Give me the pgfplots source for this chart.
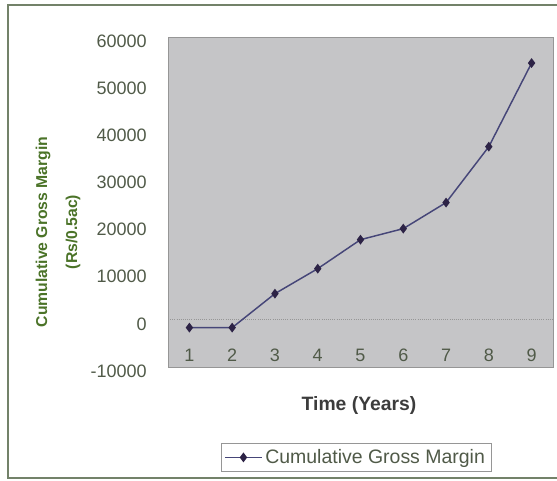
\documentclass[border=0pt]{standalone}
\usepackage{pgfplots}
\pgfplotsset{compat=1.18}
\usepackage{fontspec}
\setmainfont{Liberation Sans}
\definecolor{plotbg}{RGB}{197,197,199}
\definecolor{framec}{RGB}{115,130,105}
\definecolor{ticktext}{RGB}{80,90,72}
\definecolor{ylabc}{RGB}{75,115,40}
\definecolor{xlabc}{RGB}{60,60,60}
\definecolor{linec}{RGB}{70,70,120}
\definecolor{markc}{RGB}{45,35,70}
\definecolor{borderc}{RGB}{150,150,150}
\begin{document}
\begin{tikzpicture}
\useasboundingbox (0,0) rectangle (417.75pt,360pt);
\draw[framec, line width=1.1pt] (417.75pt,356.25pt) -- (6pt,356.25pt) -- (6pt,1.5pt) -- (417.75pt,1.5pt);
\begin{axis}[
  at={(126pt,84.75pt)}, anchor=south west,
  scale only axis, width=288.75pt, height=247.5pt,
  xmin=0.5, xmax=9.5, ymin=-10000, ymax=60000,
  scaled y ticks=false,
  axis background/.style={fill=plotbg},
  axis line style={draw=borderc, line width=0.6pt},
  xtick={1,2,3,4,5,6,7,8,9},
  xticklabels={1,2,3,4,5,6,7,8,9},
  ytick={-10000,0,10000,20000,30000,40000,50000,60000},
  yticklabels={-10000,0,10000,20000,30000,40000,50000,60000},
  major tick length=0pt,
  tick label style={font=\fontsize{13.5}{16}\selectfont, text=ticktext},
  yticklabel style={anchor=east, inner sep=0pt, xshift=-15.75pt, yshift=-3pt},
  xticklabel style={anchor=center, yshift=9pt},
  legend style={at={(0.488,-0.274)}, anchor=center, draw=borderc, fill=white,
    font=\fontsize{14.6}{17}\selectfont, text=ticktext, inner sep=2.5pt},
  legend image code/.code={\draw[mark repeat=2,mark phase=2,#1] plot coordinates {(0pt,0pt) (13.9pt,0pt) (27.75pt,0pt)};},
]
\draw[borderc, densely dotted, line width=0.6pt] (axis cs:0.5,0) -- (axis cs:9.5,0);
\addplot[linec, line width=1.1pt, mark=diamond*, mark size=2.8pt, mark options={fill=markc, draw=markc}] coordinates {
(1,-1650) (2,-1650) (3,5560) (4,10860) (5,17010) (6,19350) (7,24880) (8,36740) (9,54480)
};
\addlegendentry{Cumulative Gross Margin}
\end{axis}
\node[rotate=90, align=center, font=\bfseries\fontsize{11.8}{22.5}\selectfont, text=ylabc] at (43.5pt,186pt) {Cumulative Gross Margin\\(Rs/0.5ac)};
\node[font=\bfseries\fontsize{14.5}{17}\selectfont, text=xlabc] at (269.25pt,56.25pt) {Time (Years)};
\end{tikzpicture}
\end{document}
